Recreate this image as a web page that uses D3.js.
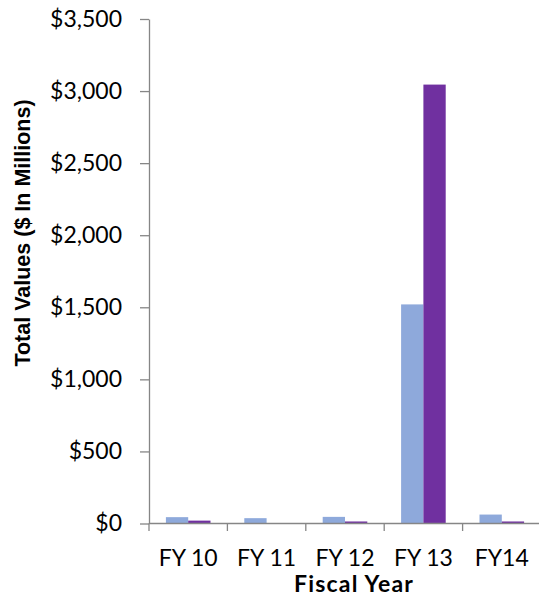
<!DOCTYPE html>
<html>
<head>
<meta charset="utf-8">
<script src="https://cdn.jsdelivr.net/npm/d3@7"></script>
<style>
  html, body { margin: 0; padding: 0; background: #fff; overflow: hidden; }
  svg { display: block; }
</style>
</head>
<body>
<svg id="chart" width="539" height="597"></svg>
<script>
// Fiscal years shown on the x axis
const categories = ["FY 10", "FY 11", "FY 12", "FY 13", "FY14"];
// Two value series, $ in millions
const seriesNames = ["Series A", "Series B"];
const seriesA = [44, 37, 46, 1520, 62];
const seriesB = [20, 0, 14, 3045, 14];
const seriesColors = ["#8EA9DB", "#7030A0"];
// Y axis tick values and their labels
const yTicks = [0, 500, 1000, 1500, 2000, 2500, 3000, 3500];
const yTickLabels = ["$0", "$500", "$1,000", "$1,500", "$2,000", "$2,500", "$3,000", "$3,500"];

const rows = categories.map((c, i) => ({ cat: c, values: [seriesA[i], seriesB[i]] }));

const svg = d3.select("#chart");
const plotLeft = 149, plotRight = 541, plotTop = 19, plotBottom = 523.5;
const axisColor = "#868686";
const tickFont = "Lato, 'Open Sans', sans-serif";

const x = d3.scaleBand().domain(categories).range([plotLeft, plotRight]).padding(0);
const xInner = d3.scaleBand().domain(seriesNames).range([0, x.bandwidth()])
  .paddingInner(0).paddingOuter(0.758);
const y = d3.scaleLinear().domain([0, 3500]).range([plotBottom, plotTop]);

// Bars
const groups = svg.append("g").selectAll("g").data(rows).join("g")
  .attr("transform", d => `translate(${x(d.cat)},0)`);
groups.selectAll("rect")
  .data(d => d.values.map((v, k) => ({ v, k })))
  .join("rect")
  .attr("x", d => xInner(seriesNames[d.k]))
  .attr("width", xInner.bandwidth())
  .attr("y", d => y(d.v))
  .attr("height", d => plotBottom - y(d.v))
  .attr("fill", d => seriesColors[d.k]);

// Y axis
const yAxis = svg.append("g")
  .attr("transform", `translate(${plotLeft},0)`)
  .call(d3.axisLeft(y).tickValues(yTicks)
    .tickFormat((d, i) => yTickLabels[i])
    .tickSizeInner(9).tickSizeOuter(0).tickPadding(18));
yAxis.select(".domain").attr("stroke", axisColor).attr("stroke-width", 1.3);
yAxis.selectAll(".tick line").attr("stroke", axisColor).attr("stroke-width", 1.3);
yAxis.selectAll(".tick text")
  .attr("fill", "#000")
  .style("font-family", tickFont)
  .style("font-size", "23px");

// X axis
const xAxis = svg.append("g")
  .attr("transform", `translate(0,${plotBottom})`)
  .call(d3.axisBottom(x).tickValues([]).tickSizeOuter(0));
xAxis.select(".domain").attr("stroke", axisColor).attr("stroke-width", 1.3)
  .attr("d", `M${plotLeft},0H${plotRight}`);
// Category separator ticks at band boundaries
xAxis.selectAll("line.sep")
  .data(categories)
  .join("line")
  .attr("class", "sep")
  .attr("x1", d => x(d)).attr("x2", d => x(d))
  .attr("y1", 0).attr("y2", 7.5)
  .attr("stroke", axisColor).attr("stroke-width", 1.3);
xAxis.selectAll("text.cat")
  .data(categories)
  .join("text")
  .attr("class", "cat")
  .attr("x", d => x(d) + x.bandwidth() / 2)
  .attr("y", 565.5 - plotBottom)
  .attr("text-anchor", "middle")
  .attr("fill", "#000")
  .style("font-family", tickFont)
  .style("font-size", "23px")
  .text(d => d);

// Axis titles
svg.append("text")
  .attr("x", 354).attr("y", 591.5)
  .attr("text-anchor", "middle")
  .style("font-family", tickFont)
  .style("font-weight", "bold")
  .style("font-size", "23px")
  .style("letter-spacing", "1.2px")
  .text("Fiscal Year");

svg.append("text")
  .attr("transform", "translate(30,233) rotate(-90)")
  .attr("text-anchor", "middle")
  .style("font-family", "'Liberation Sans', Arial, sans-serif")
  .style("font-weight", "bold")
  .style("font-size", "21.5px")
  .text("Total Values ($ In Millions)");
</script>
</body>
</html>
